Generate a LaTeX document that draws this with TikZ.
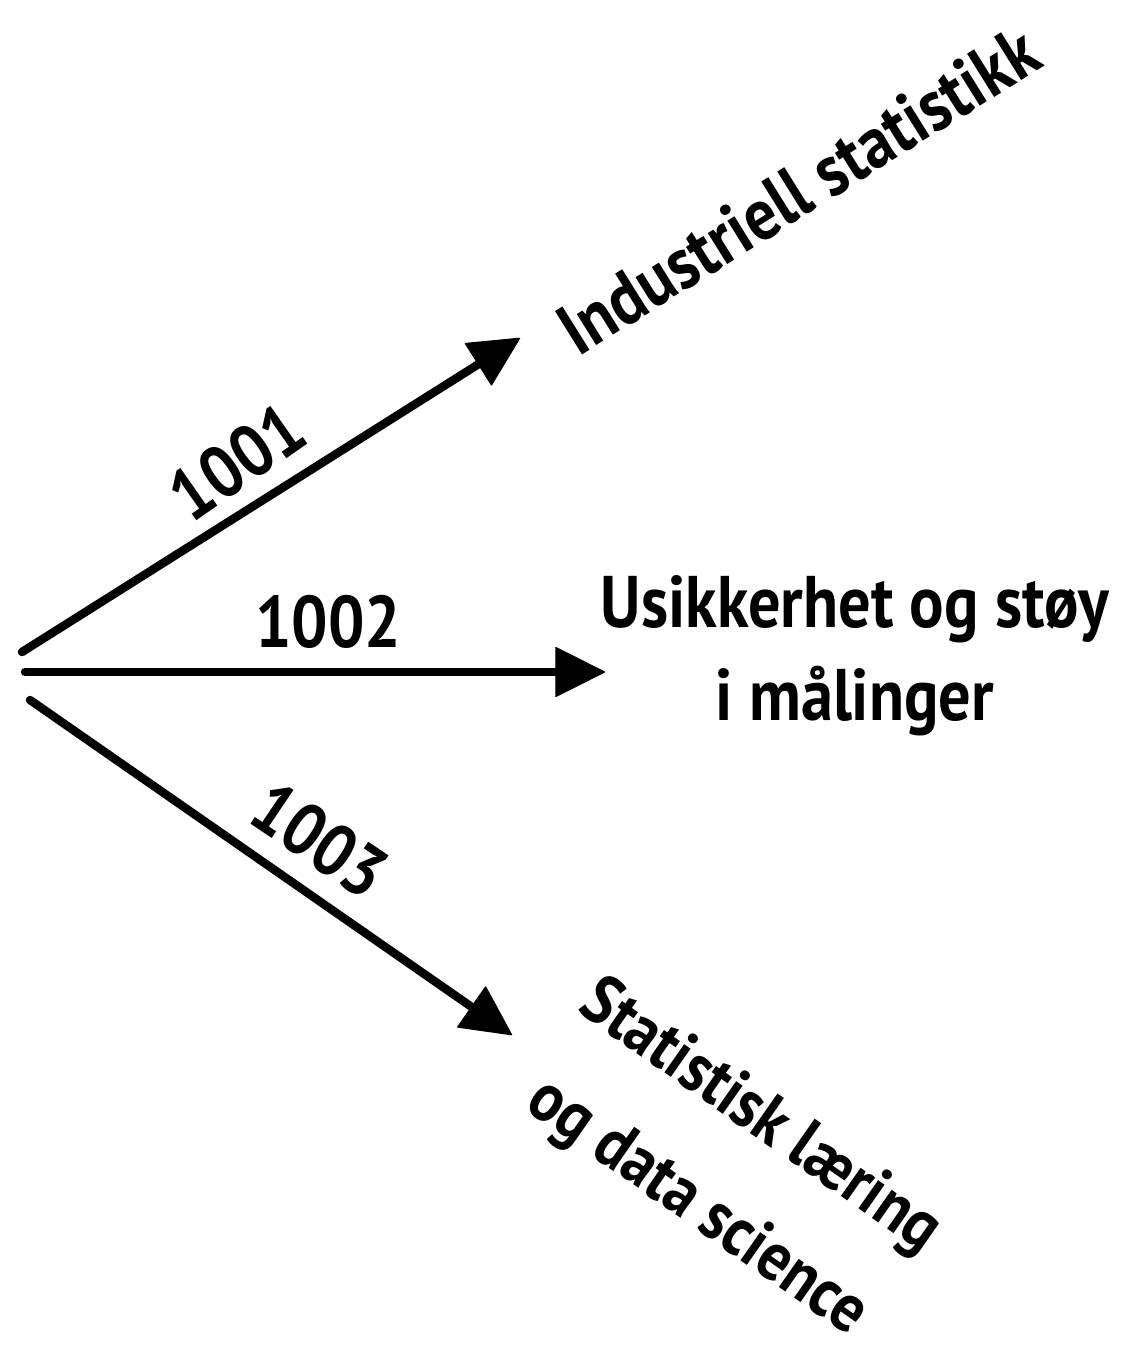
\documentclass[tikz,border=0pt]{standalone}
\usepackage{fontspec}
\setmainfont{PT Sans}
\usetikzlibrary{arrows.meta}
\newcommand{\narrowtxt}[1]{\scalebox{0.88}[1]{#1}}
\begin{document}
\begin{tikzpicture}[x=0.025cm,y=-0.025cm,
  conn/.style={line width=6pt,line cap=round,
    -{Triangle[length=36pt,width=36pt,line width=1pt,round]}},
  numlbl/.style={font=\bfseries\fontsize{52}{60}\selectfont,inner sep=0pt},
  topic/.style={font=\bfseries\fontsize{52}{66}\selectfont,inner sep=0pt,align=center}]
\useasboundingbox (0,0) rectangle (1127,1355);
\coordinate (s1) at (22,652);
\coordinate (s2) at (25,672);
\coordinate (s3) at (30,700);
\coordinate (t1) at (520,338);
\coordinate (t2) at (605,672);
\coordinate (t3) at (512,1035);
\draw[conn] (s1) -- (t1);
\draw[conn] (s2) -- (t2);
\draw[conn] (s3) -- (t3);
\node[numlbl,rotate=35] (l1) at (237,462) {\narrowtxt{1001}};
\node[numlbl] (l2) at (328,622) {\narrowtxt{1002}};
\node[numlbl,rotate=-34] (l3) at (320,840) {\narrowtxt{1003}};
\node[topic,rotate=32] (n1) at (798,190) {\narrowtxt{Industriell statistikk}};
\node[topic] (n2) at (855,656) {\narrowtxt{Usikkerhet og støy}\\\narrowtxt{i målinger}};
\node[topic,rotate=-35,font=\bfseries\fontsize{49}{78}\selectfont] (n3) at (728,1163) {\narrowtxt{Statistisk læring}\\\narrowtxt{og data science}};
\end{tikzpicture}
\end{document}
